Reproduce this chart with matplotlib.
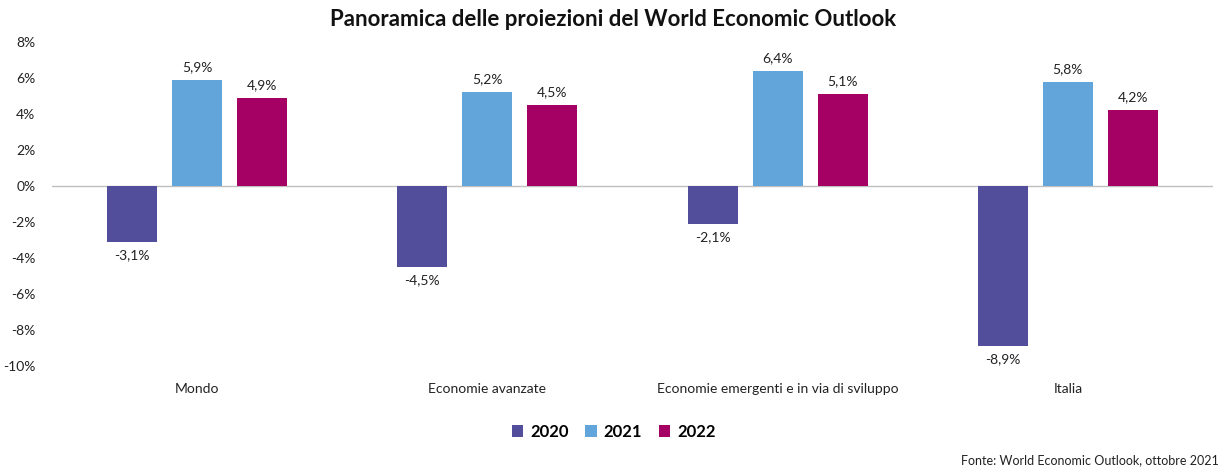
import numpy as np
import matplotlib.pyplot as plt
from matplotlib.ticker import FuncFormatter

plt.rcParams['font.family'] = ['Lato', 'DejaVu Sans']

categorie = ['Mondo', 'Economie avanzate', 'Economie emergenti e in via di sviluppo', 'Italia']
anni = ['2020', '2021', '2022']
v2020 = [-3.1, -4.5, -2.1, -8.9]
v2021 = [5.9, 5.2, 6.4, 5.8]
v2022 = [4.9, 4.5, 5.1, 4.2]
colori = ['#524E9B', '#62A5DB', '#A50064']

fig = plt.figure(figsize=(12.27, 4.72), dpi=100)
ax = fig.add_axes([0.0424, 0.2246, 0.9462, 0.6864])

x = np.arange(len(categorie))
w = 0.172
off = 0.224
for i, (serie, nome) in enumerate(zip([v2020, v2021, v2022], anni)):
    pos = x + (i - 1) * off
    bars = ax.bar(pos, serie, width=w, color=colori[i], label=nome, zorder=3)
    for b, v in zip(bars, serie):
        lab = ('%.1f%%' % v).replace('.', ',')
        if v >= 0:
            ax.annotate(lab, (b.get_x() + w / 2, v), xytext=(0, 5), textcoords='offset points',
                        ha='center', va='bottom', fontsize=10, color='#222222')
        else:
            ax.annotate(lab, (b.get_x() + w / 2, v), xytext=(0, -5), textcoords='offset points',
                        ha='center', va='top', fontsize=10, color='#222222')

ax.axhline(0, color='#BFBFBF', lw=1, zorder=2)
ax.set_xlim(-0.5, len(categorie) - 0.5)
ax.set_ylim(-10, 8)
ax.set_yticks(range(-10, 9, 2))
ax.yaxis.set_major_formatter(FuncFormatter(lambda v, p: '%d%%' % v))
ax.set_xticks(x)
ax.set_xticklabels(categorie)
ax.tick_params(axis='both', length=0, labelsize=10, colors='#222222')
ax.tick_params(axis='x', pad=12)
ax.tick_params(axis='y', pad=12)
for s in ax.spines.values():
    s.set_visible(False)

fig.suptitle('Panoramica delle proiezioni del World Economic Outlook', x=0.5, y=0.98,
             fontsize=16, fontweight='bold', color='#111111')
fig.legend(loc='center', bbox_to_anchor=(0.5, 0.085), ncol=3, frameon=False,
           prop={'size': 12, 'weight': 'bold'}, handlelength=0.7, handleheight=0.7,
           handletextpad=0.4, columnspacing=1.0)
fig.text(0.993, 0.025, 'Fonte: World Economic Outlook, ottobre 2021', ha='right', va='center',
         fontsize=9, color='#222222')

fig.savefig('out.png', dpi=100)
